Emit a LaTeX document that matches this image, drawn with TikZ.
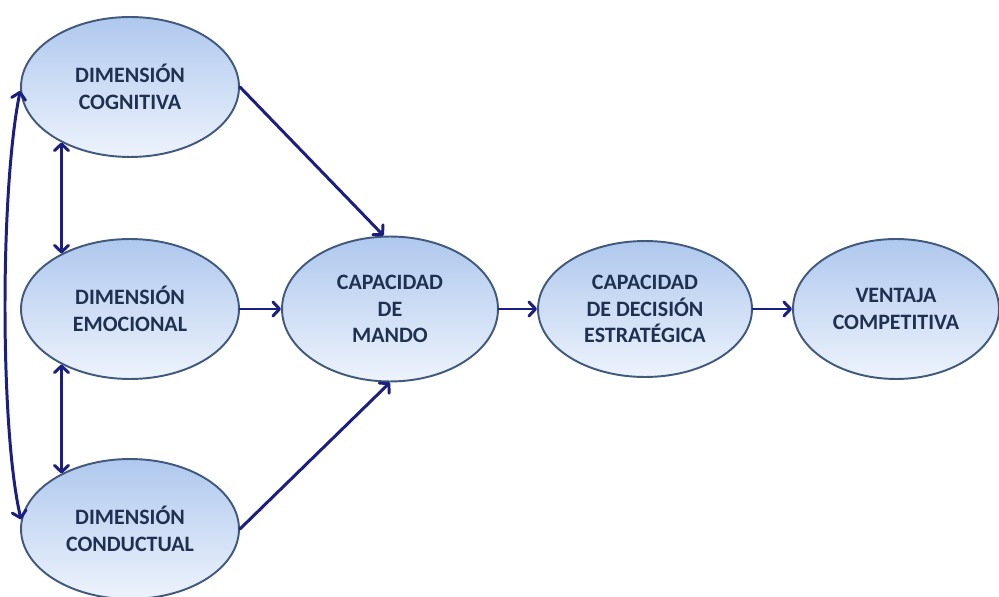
\documentclass[tikz,border=0pt]{standalone}
\usepackage{fontspec}
\setmainfont{Carlito}
\usetikzlibrary{shapes.geometric,arrows.meta}
\definecolor{navy}{HTML}{1B1F80}
\definecolor{rim}{HTML}{41597D}
\definecolor{ink}{HTML}{1F3050}
\definecolor{shadetop}{HTML}{AFC8EE}
\definecolor{shadebot}{HTML}{EDF3FC}
\tikzset{
    dim/.style={ellipse, draw=rim, line width=1.1pt, top color=shadetop, bottom color=shadebot,
        minimum width=4.36cm, minimum height=2.8cm, inner sep=0pt, align=center,
        font=\bfseries\fontsize{12.5}{15}\selectfont, text=ink},
    link/.style={draw=navy, line width=1.7pt, line cap=round},
    >={Straight Barb[length=3.8pt,width=8pt,round]}
}
\begin{document}
\begin{tikzpicture}[x=0.02cm,y=-0.02cm,->,link]
        \useasboundingbox (0,0) rectangle (999,597);
        \node[dim](cog) at (130,87){DIMENSIÓN\\COGNITIVA};
        \node[dim](emo) at (130,309){DIMENSIÓN\\EMOCIONAL};
        \node[dim](cond) at (130,529){DIMENSIÓN\\CONDUCTUAL};
        \node[dim, minimum width=4.32cm, minimum height=2.9cm](mando) at (390,309){CAPACIDAD\\DE\\MANDO};
        \node[dim, minimum width=4.28cm, minimum height=2.72cm](dec) at (645,309){CAPACIDAD\\DE DECISIÓN\\ESTRATÉGICA};
        \node[dim, minimum width=4.12cm, minimum height=2.8cm](vent) at (896,309){VENTAJA\\COMPETITIVA};
        \path (cog.east) edge (mando.95);
        \path (emo.east) edge (mando.west);
        \path (cond.east) edge (mando.south);
        \path (mando.east) edge (dec.west);
        \path (dec.east) edge (vent.west);
        \path (cog.219) edge[<->] (emo.141);
        \path (emo.219) edge[<->] (cond.141);
        \draw[<->] (cog.182) .. controls (0,190) and (0,430) .. (cond.175);
    \end{tikzpicture}
\end{document}
